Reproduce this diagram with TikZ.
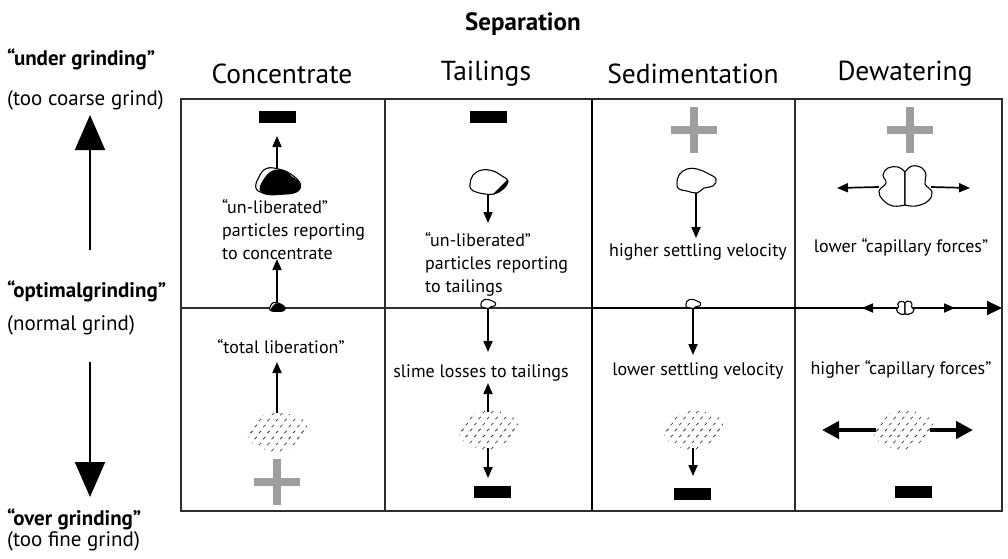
\documentclass[tikz,border=0pt]{standalone}
\usepackage{fontspec}
\setmainfont{PT Sans}
\usetikzlibrary{arrows.meta}
\definecolor{plusgray}{RGB}{158,158,158}
\definecolor{frame}{RGB}{45,45,45}

\tikzset{
  frameline/.style={draw=frame, line width=1.1pt},
  heavy/.style={draw=black, line width=2pt},
  arr/.style={line width=1.7pt, -{Triangle[length=11pt,width=9pt]}},
  fatarr/.style={line width=4.5pt, -{Triangle[length=17pt,width=17pt]}},
  bigarr/.style={line width=2pt, -{Triangle[length=35pt,width=30pt]}},
  bar/.style={fill=black, minimum width=37pt, minimum height=12pt, inner sep=0pt},
  rockbox/.style n args={2}{inner sep=0pt, minimum width=#1, minimum height=#2},
  rockline/.style={draw=black, line width=1.1pt, line join=round},
  hatch/.style={draw=black!75, line width=0.8pt, line cap=round},
  hdr/.style={font=\fontsize{27.5}{31}\selectfont},
  body/.style={font=\fontsize{18}{23}\selectfont, inner sep=0pt},
  side/.style={anchor=west, inner sep=0pt, font=\fontsize{21}{24}\selectfont},
  sidebf/.style={side, font=\fontsize{21}{24}\selectfont\bfseries},
}

% plain rock outline, centred on a node
\newcommand\plainrock[2]{%
  \begin{scope}[shift={(#1)}, scale=#2]
    \draw[rockline, fill=white] plot[smooth cycle, tension=0.7] coordinates
      {(-19,3) (-17,-6) (-9,-12) (1,-12) (11,-8) (20,-2) (17,5) (8,7) (1,12) (-9,10) (-17,8)};
  \end{scope}}

% rock with a dark mineral inclusion on its lower right
\newcommand\spottedrock[1]{%
  \begin{scope}[shift={(#1)}]
    \draw[rockline, fill=white] plot[smooth cycle, tension=0.7] coordinates
      {(-18,2) (-15,-7) (-6,-12) (5,-11) (14,-6) (20,-1) (15,7) (6,12) (-3,12) (-12,10) (-17,7)};
    \begin{scope}
      \clip plot[smooth cycle, tension=0.7] coordinates
        {(-18,2) (-15,-7) (-6,-12) (5,-11) (14,-6) (20,-1) (15,7) (6,12) (-3,12) (-12,10) (-17,7)};
      \fill[black] (3,14) -- (21,-4) -- (24,16) -- cycle;
    \end{scope}
  \end{scope}}

% rock that is mostly the dark mineral
\newcommand\darkrock[2]{%
  \begin{scope}[shift={(#1)}, scale=#2]
    \draw[rockline, fill=white] plot[smooth cycle, tension=0.7] coordinates
      {(-18,7) (-16,-3) (-9,-11) (3,-10) (12,-6) (20,2) (16,9) (4,11) (-8,11)};
    \fill[black] plot[smooth cycle, tension=0.7] coordinates
      {(-15,8) (-12,-1) (-4,-9) (6,-9) (13,-4) (21,3) (17,10) (4,12) (-9,12)};
  \end{scope}}

% two rocks held together
\newcommand\twinrock[2]{%
  \begin{scope}[shift={(#1)}, scale=#2]
    \draw[rockline, fill=white] plot[smooth, tension=0.7] coordinates
      {(0,-15) (-7,-20) (-17,-19) (-22,-12) (-19,-4) (-26,4) (-22,13) (-12,19) (0,18)} -- cycle;
    \draw[rockline, fill=white] plot[smooth, tension=0.7] coordinates
      {(0,-15) (7,-21) (17,-19) (21,-12) (20,-3) (27,5) (23,14) (11,19) (0,18)} -- cycle;
  \end{scope}}

% cloud of fine particles
\newcommand\fines[1]{%
  \begin{scope}[shift={(#1)}]
    \clip plot[smooth cycle, tension=0.8] coordinates
      {(-29,1) (-24,-11) (-10,-18) (5,-19) (21,-15) (30,-7) (26,6) (15,16) (1,20) (-14,17) (-26,10)};
    \foreach \i in {-5,...,5}{\foreach \j in {-5,...,5}{
      \draw[hatch] (\i*8.5+\j*4.2-1.1,\j*6+1.1) -- ++(2.2,-2.2);
    }}
  \end{scope}}

% grey plus sign
\newcommand\plusmark[1]{%
  \begin{scope}[shift={(#1)}]
    \fill[plusgray] (-23,-3.6) rectangle (23,3.6);
    \fill[plusgray] (-3.6,-23) rectangle (3.6,23);
  \end{scope}}

\begin{document}
\begin{tikzpicture}[x=1pt, y=-1pt]
\useasboundingbox (0,0) rectangle (1008,558);

% ---------- table frame ----------
\draw[frameline] (181,99) rectangle (1002,511);
\draw[frameline] (385,99) -- (385,511);
\draw[frameline] (795,99) -- (795,511);
\draw[frameline] (181,308) -- (592,308);
\draw[heavy] (592,99) -- (592,511);
\coordinate (axisL) at (592,308);
\coordinate (axisR) at (1002,308);
\draw[heavy, -{Triangle[length=15pt,width=14pt]}] (axisL) -- (axisR);

% ---------- headings ----------
\node[font=\fontsize{25}{29}\selectfont\bfseries] (sep) at (523,24) {Separation};
\node[hdr] (hConc) at (282,74) {Concentrate};
\node[hdr] (hTail) at (486,74) {Tailings};
\node[hdr] (hSed)  at (693,74) {Sedimentation};
\node[hdr] (hDew)  at (905,74) {Dewatering};

% ---------- grinding scale ----------
\node[sidebf] (under) at (7,59) {“under grinding”};
\node[side]   (coarse) at (7,100) {(too coarse grind)};
\node[sidebf] (optimal) at (7,291) {“optimalgrinding”};
\node[side]   (normal) at (7,325) {(normal grind)};
\node[sidebf] (over) at (7,519) {“over grinding”};
\node[side]   (fine) at (7,541) {(too fine grind)};
\coordinate (upFrom) at (90,250);
\coordinate (upTo) at (90,115);
\coordinate (dnFrom) at (90,362);
\coordinate (dnTo) at (90,497);
\draw[bigarr] (upFrom) -- (upTo);
\draw[bigarr] (dnFrom) -- (dnTo);

% ---------- Concentrate ----------
\node[bar] (barC) at (277,117) {};
\node[rockbox={44pt}{25pt}] (rockC) at (277,181) {};
\darkrock{rockC}{1.15}
\coordinate (tipC) at (277,136);
\draw[arr] (rockC.north) -- (tipC);
\node[body, anchor=west, align=left] (txtC) at (222,230)
  {“un-liberated”\\particles reporting\\to concentrate};
\node[rockbox={14pt}{8pt}] (seedC) at (277,307) {};
\darkrock{seedC}{0.4}
\coordinate (tipC2) at (277,259);
\draw[arr] (seedC.north) -- (tipC2);
\node[body] (libC) at (281,347) {“total liberation”};
\node[rockbox={58pt}{38pt}] (finesC) at (277,432) {};
\fines{finesC}
\coordinate (tipC3) at (277,362);
\draw[arr] (finesC.north) -- (tipC3);
\coordinate (plusC) at (277,482);
\plusmark{plusC}

% ---------- Tailings ----------
\node[bar] (barT) at (488,117) {};
\node[rockbox={38pt}{24pt}] (rockT) at (488,182) {};
\spottedrock{rockT}
\coordinate (tipT) at (488,223);
\draw[arr] (rockT.south) -- (tipT);
\node[body, anchor=west, align=left] (txtT) at (425,264)
  {“un-liberated”\\particles reporting\\to tailings};
\node[rockbox={14pt}{9pt}] (seedT) at (488,304) {};
\plainrock{seedT}{0.38}
\coordinate (tipT2) at (488,352);
\draw[arr] (seedT.south) -- (tipT2);
\node[body] (slimeT) at (481,373) {slime losses to tailings};
\node[rockbox={58pt}{36pt}] (finesT) at (488,430) {};
\fines{finesT}
\coordinate (tipT3) at (488,383);
\coordinate (tipT4) at (488,478);
\draw[arr] (finesT.north) -- (tipT3);
\draw[arr] (finesT.south) -- (tipT4);
\node[bar] (barT2) at (492,492) {};

% ---------- Sedimentation ----------
\coordinate (plusS) at (694,130);
\plusmark{plusS}
\node[rockbox={39pt}{24pt}] (rockS) at (696,181) {};
\plainrock{rockS}{1}
\coordinate (tipS) at (696,238);
\draw[arr] (rockS.south) -- (tipS);
\node[body] (hiS) at (698,252) {higher settling velocity};
\node[rockbox={14pt}{9pt}] (seedS) at (693,304) {};
\plainrock{seedS}{0.38}
\coordinate (tipS2) at (693,355);
\draw[arr] (seedS.south) -- (tipS2);
\node[body] (loS) at (698,371) {lower settling velocity};
\node[rockbox={58pt}{36pt}] (finesS) at (693,430) {};
\fines{finesS}
\coordinate (tipS3) at (693,476);
\draw[arr] (finesS.south) -- (tipS3);
\node[bar] (barS) at (692,494) {};

% ---------- Dewatering ----------
\coordinate (plusD) at (910,130);
\plusmark{plusD}
\node[rockbox={52pt}{40pt}] (twinD) at (905,187) {};
\twinrock{twinD}{1}
\coordinate (tipDL) at (837,188);
\coordinate (tipDR) at (970,188);
\draw[arr] (twinD.west) -- (tipDL);
\draw[arr] (twinD.east) -- (tipDR);
\node[body] (loD) at (901,247) {lower “capillary forces”};
\node[rockbox={17pt}{12pt}] (seedD) at (905,308) {};
\twinrock{seedD}{0.33}
\coordinate (tipDL2) at (862,308);
\coordinate (tipDR2) at (955,308);
\draw[arr] (seedD.west) -- (tipDL2);
\draw[arr] (seedD.east) -- (tipDR2);
\node[body] (hiD) at (901,369) {higher “capillary forces”};
\node[rockbox={58pt}{36pt}] (finesD) at (903,430) {};
\fines{finesD}
\coordinate (tipDL3) at (822,430);
\coordinate (tipDR3) at (973,430);
\draw[fatarr] ([xshift=2pt]finesD.west) -- (tipDL3);
\draw[fatarr] ([xshift=-2pt]finesD.east) -- (tipDR3);
\node[bar] (barD) at (913,492) {};
\end{tikzpicture}
\end{document}
